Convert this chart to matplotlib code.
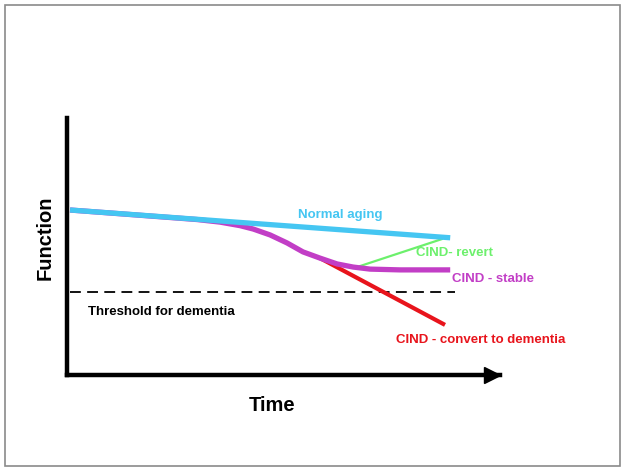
import matplotlib
matplotlib.use("Agg")
import matplotlib.pyplot as plt
from matplotlib.patches import Rectangle

plt.rcParams["font.family"] = ["Liberation Sans", "DejaVu Sans"]

# conceptual trajectories (time 0-10, function 0-10)
normal_x = [0.07, 8.85]
normal_y = [6.42, 5.34]

stable_x = [0.07, 3.00, 3.53, 4.00, 4.30, 4.69, 5.08, 5.45, 5.84, 6.24, 6.61, 7.00, 7.69, 8.85]
stable_y = [6.42, 6.05, 5.95, 5.81, 5.68, 5.45, 5.14, 4.79, 4.55, 4.32, 4.20, 4.12, 4.09, 4.09]

convert_x = [5.84, 8.73]
convert_y = [4.55, 1.95]

revert_x = [6.77, 8.66]
revert_y = [4.24, 5.29]

threshold_y = 3.23
threshold_x = [0.07, 8.96]

CYAN = "#45c6f2"
MAGENTA = "#c23ec6"
RED = "#e8141c"
GREEN = "#6cf06c"

W, H = 624, 472
fig = plt.figure(figsize=(W / 100, H / 100), dpi=100)
fig.patches.append(Rectangle((5 / W, 6 / H), 615 / W, 461 / H, transform=fig.transFigure,
                             fill=False, edgecolor="#8a8a8a", linewidth=1.2))

ax = fig.add_axes([67 / W, (H - 375) / H, (500 - 67) / W, (375 - 118) / H])
ax.set_xlim(0, 10)
ax.set_ylim(0, 10)
ax.set_xticks([])
ax.set_yticks([])
for side in ["top", "right"]:
    ax.spines[side].set_visible(False)
for side in ["left", "bottom"]:
    ax.spines[side].set_linewidth(3.2)
    ax.spines[side].set_capstyle("projecting")
ax.plot(0.981, 0, marker=">", color="black", markersize=12, transform=ax.transAxes, clip_on=False)

ax.plot(threshold_x, [threshold_y, threshold_y], color="black", linewidth=1.3, dashes=(6, 3.5))
ax.plot(convert_x, convert_y, color=RED, linewidth=3.0, solid_capstyle="butt")
ax.plot(revert_x, revert_y, color=GREEN, linewidth=1.6)
ax.plot(stable_x, stable_y, color=MAGENTA, linewidth=3.8, solid_capstyle="butt",
        solid_joinstyle="round")
ax.plot(normal_x, normal_y, color=CYAN, linewidth=3.8, solid_capstyle="butt")

lbl = dict(fontsize=9.5, fontweight="bold", va="center", ha="left")
ax.text(5.33, 6.23, "Normal aging", color=CYAN, **lbl)
ax.text(8.06, 4.75, "CIND- revert", color=GREEN, clip_on=False, **lbl)
ax.text(8.89, 3.74, "CIND - stable", color=MAGENTA, clip_on=False, **lbl)
ax.text(7.60, 1.36, "CIND - convert to dementia", color=RED, clip_on=False, **lbl)
ax.text(0.48, 2.45, "Threshold for dementia", color="black", **lbl)

ax.text(-0.51, 5.33, "Function", rotation=90, fontsize=14.5, fontweight="bold",
        ha="center", va="center", clip_on=False)
ax.text(4.73, -1.17, "Time", fontsize=14.5, fontweight="bold",
        ha="center", va="center", clip_on=False)

fig.savefig("out.png", dpi=100)
